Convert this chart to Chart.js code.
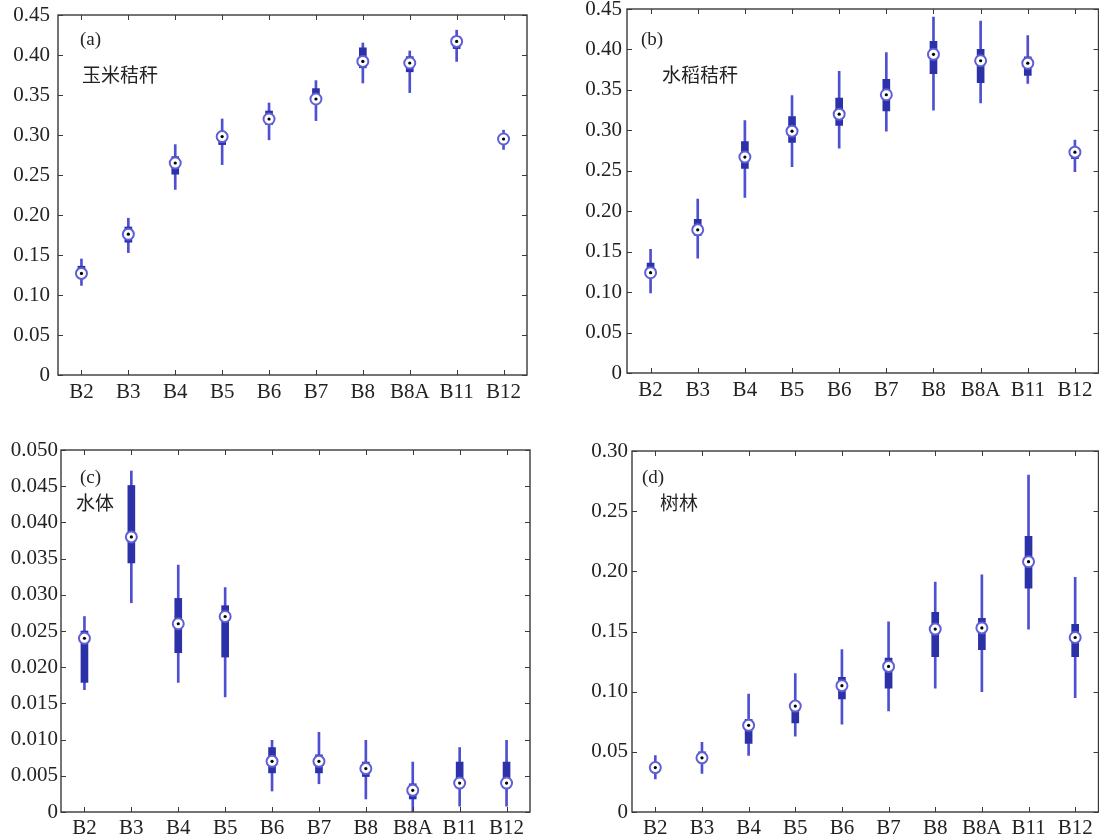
<!DOCTYPE html>
<html>
<head>
<meta charset="utf-8">
<script src="https://cdn.jsdelivr.net/npm/chart.js@4.4.1/dist/chart.umd.min.js"></script>
<style>
    body { margin: 0; background: #fff; }
    #wrap { position: relative; width: 1099px; height: 840px; overflow: hidden; }
    canvas { position: absolute; }
</style>
</head>
<body>
<div id="wrap">
    <canvas id="chart-a" style="left:0;top:-10px;width:545px;height:425px" width="545" height="425"></canvas>
    <canvas id="chart-b" style="left:560px;top:-10px;width:546px;height:425px" width="546" height="425"></canvas>
    <canvas id="chart-c" style="left:0;top:425px;width:545px;height:415px" width="545" height="415"></canvas>
    <canvas id="chart-d" style="left:560px;top:425px;width:546px;height:415px" width="546" height="415"></canvas>
</div>
<script>
const bands = ['B2', 'B3', 'B4', 'B5', 'B6', 'B7', 'B8', 'B8A', 'B11', 'B12'];

// (a) 玉米秸秆
const cornMin = [0.112, 0.153, 0.232, 0.263, 0.294, 0.318, 0.365, 0.353, 0.392, 0.282];
const cornQ1 = [0.122, 0.166, 0.251, 0.288, 0.313, 0.340, 0.384, 0.379, 0.408, 0.290];
const cornMed = [0.127, 0.176, 0.265, 0.298, 0.320, 0.345, 0.392, 0.390, 0.417, 0.295];
const cornQ3 = [0.136, 0.185, 0.273, 0.303, 0.330, 0.358, 0.409, 0.398, 0.423, 0.300];
const cornMax = [0.145, 0.196, 0.288, 0.320, 0.340, 0.368, 0.415, 0.405, 0.431, 0.306];

// (b) 水稻秸秆
const riceMin = [0.099, 0.142, 0.217, 0.255, 0.278, 0.299, 0.325, 0.334, 0.358, 0.249];
const riceQ1 = [0.124, 0.170, 0.253, 0.285, 0.306, 0.324, 0.370, 0.359, 0.368, 0.265];
const riceMed = [0.124, 0.177, 0.267, 0.299, 0.320, 0.344, 0.394, 0.386, 0.383, 0.273];
const riceQ3 = [0.136, 0.190, 0.286, 0.317, 0.340, 0.363, 0.410, 0.400, 0.391, 0.276];
const riceMax = [0.153, 0.215, 0.312, 0.343, 0.373, 0.396, 0.440, 0.435, 0.417, 0.288];

// (c) 水体
const waterMin = [0.0169, 0.0289, 0.0179, 0.0159, 0.0029, 0.0039, 0.0018, 0.0000, 0.0008, 0.0008];
const waterQ1 = [0.0179, 0.0344, 0.0220, 0.0214, 0.0054, 0.0054, 0.0049, 0.0018, 0.0040, 0.0040];
const waterMed = [0.0240, 0.0380, 0.0260, 0.0270, 0.0070, 0.0070, 0.0060, 0.0030, 0.0040, 0.0040];
const waterQ3 = [0.0250, 0.0451, 0.0295, 0.0285, 0.0089, 0.0079, 0.0069, 0.0039, 0.0069, 0.0069];
const waterMax = [0.0270, 0.0471, 0.0341, 0.0310, 0.0099, 0.0110, 0.0099, 0.0069, 0.0089, 0.0099];

// (d) 树林
const forestMin = [0.0275, 0.032, 0.047, 0.063, 0.073, 0.084, 0.103, 0.100, 0.152, 0.095];
const forestQ1 = [0.0336, 0.041, 0.057, 0.074, 0.094, 0.103, 0.129, 0.135, 0.186, 0.129];
const forestMed = [0.0369, 0.045, 0.072, 0.088, 0.105, 0.121, 0.152, 0.153, 0.208, 0.145];
const forestQ3 = [0.0390, 0.050, 0.077, 0.091, 0.112, 0.128, 0.166, 0.161, 0.229, 0.156];
const forestMax = [0.0468, 0.058, 0.098, 0.115, 0.135, 0.158, 0.191, 0.197, 0.280, 0.195];

const serif = '"Liberation Serif", "DejaVu Serif", serif';
const cjk = '"Noto Sans CJK SC", sans-serif';

// MATLAB style frame with inward ticks, plus the panel labels
const framePlugin = {
    id: 'frame',
    afterDraw(chart, args, opts) {
        const { ctx, chartArea: a, scales } = chart;
        ctx.save();
        ctx.strokeStyle = '#3a3a3a';
        ctx.lineWidth = 1.4;
        ctx.strokeRect(a.left, a.top, a.right - a.left, a.bottom - a.top);
        ctx.lineWidth = 1;
        scales.y.ticks.forEach(t => {
            let y = Math.round(scales.y.getPixelForValue(t.value)) + 0.5;
            ctx.beginPath();
            ctx.moveTo(a.left, y); ctx.lineTo(a.left + 5, y);
            ctx.moveTo(a.right, y); ctx.lineTo(a.right - 5, y);
            ctx.stroke();
        });
        bands.forEach((b, i) => {
            let x = Math.round(scales.x.getPixelForValue(i)) + 0.5;
            ctx.beginPath();
            ctx.moveTo(x, a.bottom); ctx.lineTo(x, a.bottom - 5);
            ctx.moveTo(x, a.top); ctx.lineTo(x, a.top + 5);
            ctx.stroke();
        });
        ctx.fillStyle = '#222';
        ctx.textBaseline = 'middle';
        ctx.font = '19px ' + serif;
        ctx.fillText(opts.tag, a.left + opts.tagX, a.top + opts.tagY);
        ctx.font = '19px ' + cjk;
        ctx.fillText(opts.name, a.left + opts.nameX, a.top + opts.nameY);
        ctx.restore();
    }
};

function makePanel(id, min, q1, med, q3, max, yMax, step, digits, yWidth, yPad, pad, xHeight, xPad, label) {
    const context = document.getElementById(id).getContext('2d');
    return new Chart(context, {
        type: 'bar',
        data: {
            labels: bands,
            datasets: [
                {
                    type: 'bar',
                    data: min.map((v, i) => [v, max[i]]),
                    backgroundColor: '#4f4fd2',
                    barThickness: 2,
                    grouped: false,
                    order: 4
                },
                {
                    type: 'bar',
                    data: q1.map((v, i) => [v, q3[i]]),
                    backgroundColor: '#2c31a8',
                    barThickness: 7,
                    grouped: false,
                    order: 3
                },
                {
                    type: 'line',
                    data: med,
                    showLine: false,
                    pointRadius: 5.5,
                    pointBackgroundColor: '#ffffff',
                    pointBorderColor: '#5f5fd8',
                    pointBorderWidth: 2,
                    order: 2
                },
                {
                    type: 'line',
                    data: med,
                    showLine: false,
                    pointRadius: 1.6,
                    pointBorderWidth: 0,
                    pointBackgroundColor: '#000000',
                    order: 1
                }
            ]
        },
        options: {
            responsive: false,
            animation: false,
            events: [],
            layout: { padding: pad },
            plugins: {
                legend: { display: false },
                tooltip: { enabled: false },
                frame: label
            },
            scales: {
                x: {
                    grid: { display: false, drawTicks: false },
                    border: { display: false },
                    ticks: { color: '#222', font: { family: serif, size: 21 }, padding: xPad, maxRotation: 0 },
                    afterFit: scale => { scale.height = xHeight; }
                },
                y: {
                    min: 0,
                    max: yMax,
                    grid: { display: false, drawTicks: false },
                    border: { display: false },
                    ticks: {
                        stepSize: step,
                        color: '#222',
                        font: { family: serif, size: 21 },
                        padding: yPad,
                        callback: v => v === 0 ? '0' : v.toFixed(digits)
                    },
                    afterFit: scale => { scale.width = yWidth; }
                }
            }
        },
        plugins: [framePlugin]
    });
}

makePanel('chart-a', cornMin, cornQ1, cornMed, cornQ3, cornMax, 0.45, 0.05, 2, 58, 8,
    { top: 25, right: 18, left: 0, bottom: 0 }, 40, 5,
    { tag: '(a)', tagX: 22, tagY: 25, name: '玉米秸秆', nameX: 24, nameY: 60 });
makePanel('chart-b', riceMin, riceQ1, riceMed, riceQ3, riceMax, 0.45, 0.05, 2, 67, 5,
    { top: 19, right: 0, left: 0, bottom: 0 }, 42, 5,
    { tag: '(b)', tagX: 14, tagY: 31, name: '水稻秸秆', nameX: 35, nameY: 66 });
makePanel('chart-c', waterMin, waterQ1, waterMed, waterQ3, waterMax, 0.05, 0.005, 3, 61, 3,
    { top: 25, right: 15, left: 0, bottom: 0 }, 28, 4,
    { tag: '(c)', tagX: 19, tagY: 28, name: '水体', nameX: 15, nameY: 53 });
makePanel('chart-d', forestMin, forestQ1, forestMed, forestQ3, forestMax, 0.30, 0.05, 2, 72, 4,
    { top: 26, right: 0, left: 0, bottom: 0 }, 28, 4,
    { tag: '(d)', tagX: 10, tagY: 27, name: '树林', nameX: 28, nameY: 52 });
</script>
</body>
</html>
